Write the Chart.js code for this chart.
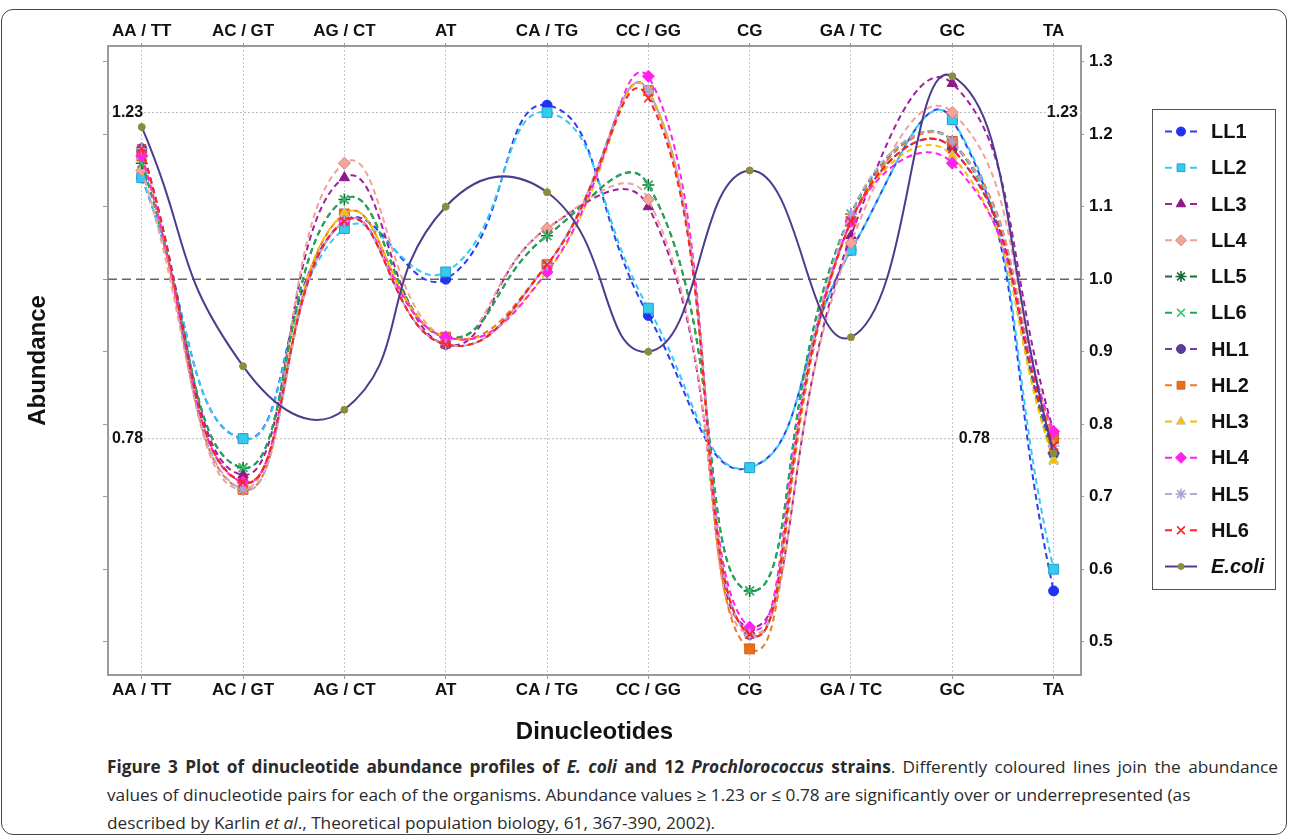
<!DOCTYPE html>
<html>
<head>
<meta charset="utf-8">
<script src="https://cdn.jsdelivr.net/npm/chart.js@4.4.1/dist/chart.umd.min.js"></script>
<style>
  html, body { margin: 0; padding: 0; background: #fff; }
  #wrap { position: relative; width: 1290px; height: 838px; overflow: hidden; }
  #frame { position: absolute; left: 1px; top: 9px; width: 1284px; height: 824px; border: 1.5px solid #444; border-radius: 12px; }
  #c { position: absolute; left: 0; top: 0; }
  #caption { position: absolute; left: 107px; top: 753px; font-family: "Open Sans", "Noto Sans", sans-serif; font-size: 17px; line-height: 28px; color: #2a2a2a; transform-origin: 0 0; }
  #caption div { white-space: nowrap; }
</style>
</head>
<body>
<div id="wrap">
  <div id="frame"></div>
  <canvas id="c" width="1290" height="750"></canvas>
  <div id="caption">
    <div><span><b>Figure 3 Plot of dinucleotide abundance profiles of <i>E. coli</i> and 12 <i>Prochlorococcus</i> strains</b>. Differently coloured lines join the abundance</span></div>
    <div><span>values of dinucleotide pairs for each of the organisms. Abundance values ≥ 1.23 or ≤ 0.78 are significantly over or underrepresented (as</span></div>
    <div><span>described by Karlin <i>et al</i>., Theoretical population biology, 61, 367-390, 2002).</span></div>
  </div>
</div>
<script>
const categories = ['AA / TT', 'AC / GT', 'AG / CT', 'AT', 'CA / TG', 'CC / GG', 'CG', 'GA / TC', 'GC', 'TA'];
const yTicks = [0.5, 0.6, 0.7, 0.8, 0.9, 1.0, 1.1, 1.2, 1.3];

const LL1 = [1.14, 0.78, 1.08, 1.00, 1.24, 0.95, 0.74, 1.04, 1.22, 0.57];
const LL2 = [1.14, 0.78, 1.07, 1.01, 1.23, 0.96, 0.74, 1.04, 1.22, 0.60];
const LL3 = [1.18, 0.73, 1.14, 0.91, 1.07, 1.10, 0.52, 1.06, 1.27, 0.79];
const LL4 = [1.15, 0.71, 1.16, 0.92, 1.07, 1.11, 0.51, 1.05, 1.23, 0.78];
const LL5 = [1.16, 0.74, 1.11, 0.92, 1.06, 1.13, 0.57, 1.09, 1.19, 0.76];
const LL6 = [1.16, 0.74, 1.11, 0.92, 1.06, 1.13, 0.57, 1.09, 1.19, 0.75];
const HL1 = [1.18, 0.72, 1.08, 0.91, 1.02, 1.26, 0.51, 1.08, 1.18, 0.76];
const HL2 = [1.17, 0.71, 1.09, 0.92, 1.02, 1.26, 0.49, 1.08, 1.19, 0.78];
const HL3 = [1.17, 0.72, 1.09, 0.92, 1.01, 1.26, 0.51, 1.08, 1.17, 0.75];
const HL4 = [1.17, 0.72, 1.08, 0.92, 1.01, 1.28, 0.52, 1.08, 1.16, 0.79];
const HL5 = [1.18, 0.71, 1.08, 0.91, 1.02, 1.26, 0.51, 1.09, 1.19, 0.77];
const HL6 = [1.18, 0.72, 1.08, 0.91, 1.02, 1.25, 0.51, 1.08, 1.18, 0.77];
const ECOLI = [1.21, 0.88, 0.82, 1.10, 1.12, 0.90, 1.15, 0.92, 1.28, 0.76];

const seriesNames = ['LL1', 'LL2', 'LL3', 'LL4', 'LL5', 'LL6', 'HL1', 'HL2', 'HL3', 'HL4', 'HL5', 'HL6', 'E.coli'];
const seriesValues = [LL1, LL2, LL3, LL4, LL5, LL6, HL1, HL2, HL3, HL4, HL5, HL6, ECOLI];
const refLevels = [1.23, 0.78];

// line colour, marker fill, marker edge, marker style, marker radius
const styles = [
  { line: '#2e3cf5', fill: '#2233ee', edge: '#2233ee', point: 'circle', r: 5 },
  { line: '#33ccf5', fill: '#33ccee', edge: '#2a9ccc', point: 'rect', r: 7 },
  { line: '#a020a0', fill: '#8b1a8b', edge: '#8b1a8b', point: 'triangle', r: 6 },
  { line: '#f4a09a', fill: '#f4a49a', edge: '#d88080', point: 'rectRot', r: 6 },
  { line: '#1a6a38', fill: '#1a6a38', edge: '#1a6a38', point: 'star', r: 6 },
  { line: '#23a85a', fill: '#3cc070', edge: '#3cc070', point: 'crossRot', r: 6 },
  { line: '#6a3fa8', fill: '#5a3a9a', edge: '#5a3a9a', point: 'circle', r: 5 },
  { line: '#ea7a1e', fill: '#e8701a', edge: '#d06020', point: 'rect', r: 7 },
  { line: '#f5c000', fill: '#f5c000', edge: '#cccccc', point: 'triangle', r: 6 },
  { line: '#ff22ee', fill: '#ff22ee', edge: '#ff22ee', point: 'rectRot', r: 6 },
  { line: '#b8a8d8', fill: '#b0a0d8', edge: '#b0a0d8', point: 'star', r: 6 },
  { line: '#ff2222', fill: '#ff2222', edge: '#ff2222', point: 'crossRot', r: 6 },
  { line: '#4e3b8e', fill: '#8c8c3c', edge: '#8c8c3c', point: 'circle', r: 3.5 }
];

const FONT = '"Liberation Sans", Arial, sans-serif';

const datasets = seriesNames.map((name, i) => {
  const st = styles[i];
  const lineish = st.point === 'star' || st.point === 'crossRot';
  return {
    label: name,
    data: seriesValues[i].map((v, j) => ({ x: j, y: v })),
    borderColor: st.line,
    borderWidth: 2,
    borderDash: i < 12 ? [6, 4] : [],
    pointStyle: st.point,
    pointRadius: st.r,
    pointBackgroundColor: st.fill,
    pointBorderColor: st.edge,
    pointBorderWidth: lineish ? 1.6 : 1,
    tension: 0.5,
    fill: false,
    order: -i
  };
});

const catTicks = (scale) => { scale.ticks = categories.map((c, i) => ({ value: i })); };
const valTicks = (scale) => { scale.ticks = yTicks.map(v => ({ value: v })); };

const xCommon = {
  type: 'linear',
  min: -0.333,
  max: 9.27,
  afterBuildTicks: catTicks,
  ticks: {
    autoSkip: false, maxRotation: 0, padding: 1.4,
    color: '#111', font: { family: FONT, size: 17, weight: 'bold' },
    callback: (v) => categories[v]
  },
  border: { color: '#9a9a9a', width: 2, dash: [2, 2] },
  grid: { color: '#c4c4c4', lineWidth: 1, tickColor: '#9a9a9a', tickBorderDash: [], tickLength: 4 }
};

const refPlugin = {
  id: 'refLines',
  beforeDatasetsDraw(chart) {
    const { ctx, chartArea: a, scales } = chart;
    const y = scales.y;
    ctx.save();
    ctx.strokeStyle = '#666';
    ctx.lineWidth = 1.5;
    ctx.setLineDash([9, 5]);
    const y1 = y.getPixelForValue(1.0);
    ctx.beginPath(); ctx.moveTo(a.left, y1); ctx.lineTo(a.right, y1); ctx.stroke();
    ctx.strokeStyle = '#bbb';
    ctx.lineWidth = 1;
    ctx.setLineDash([2, 2]);
    refLevels.forEach(v => {
      const py = y.getPixelForValue(v);
      ctx.beginPath(); ctx.moveTo(a.left, py); ctx.lineTo(a.right, py); ctx.stroke();
    });
    ctx.setLineDash([]);
    ctx.font = 'bold 16px ' + FONT;
    ctx.textBaseline = 'middle';
    const label = (txt, x, py, align) => {
      const w = ctx.measureText(txt).width;
      const lx = align === 'left' ? x : x - w;
      ctx.fillStyle = '#fff';
      ctx.fillRect(lx - 1, py - 8, w + 2, 16);
      ctx.fillStyle = '#111';
      ctx.textAlign = 'left';
      ctx.fillText(txt, lx, py);
    };
    const p123 = y.getPixelForValue(refLevels[0]);
    const p078 = y.getPixelForValue(refLevels[1]);
    label('1.23', a.left + 4, p123, 'left');
    label('0.78', a.left + 4, p078, 'left');
    label('1.23', a.right - 3, p123, 'right');
    label('0.78', a.right - 91, p078, 'right');
    ctx.restore();
  }
};

const legendPlugin = {
  id: 'boxLegend',
  afterDraw(chart) {
    const ctx = chart.ctx;
    const bx = 1152, by = 109, bw = 123, bh = 480;
    ctx.save();
    ctx.strokeStyle = '#555';
    ctx.lineWidth = 1;
    ctx.strokeRect(bx + 0.5, by + 0.5, bw, bh);
    seriesNames.forEach((name, i) => {
      const st = styles[i];
      const cy = 131.5 + i * 36.25;
      ctx.strokeStyle = st.line;
      ctx.lineWidth = 2;
      ctx.setLineDash([]);
      ctx.beginPath();
      if (i < 12) {
        ctx.moveTo(1165, cy); ctx.lineTo(1172, cy);
        ctx.moveTo(1190, cy); ctx.lineTo(1197, cy);
      } else {
        ctx.moveTo(1165, cy); ctx.lineTo(1197, cy);
      }
      ctx.stroke();
      ctx.fillStyle = st.fill;
      ctx.strokeStyle = st.edge;
      const lineish = st.point === 'star' || st.point === 'crossRot';
      ctx.lineWidth = lineish ? 1.6 : 1;
      Chart.helpers.drawPoint(ctx, { pointStyle: st.point, radius: Math.min(st.r, 6) - 0.5, rotation: 0, borderWidth: ctx.lineWidth }, 1181, cy);
      ctx.fillStyle = '#111';
      ctx.font = (i === 12 ? 'italic bold 20px ' : 'bold 20px ') + FONT;
      ctx.textAlign = 'left';
      ctx.textBaseline = 'middle';
      ctx.fillText(name, 1211, cy + 1);
    });
    ctx.restore();
  }
};

new Chart(document.getElementById('c'), {
  type: 'line',
  data: { datasets },
  options: {
    responsive: false,
    animation: false,
    layout: { padding: 0 },
    plugins: { legend: { display: false }, tooltip: { enabled: false } },
    scales: {
      x: {
        ...xCommon,
        position: 'bottom',
        title: { display: true, text: 'Dinucleotides', color: '#111', font: { family: FONT, size: 24, weight: 'bold' }, padding: { top: 0, bottom: 3 } },
        afterFit: (s) => { s.height = 75; }
      },
      x2: {
        ...xCommon,
        position: 'top',
        grid: { ...xCommon.grid, drawOnChartArea: false, tickLength: 3 },
        afterFit: (s) => { s.height = 46; }
      },
      y: {
        type: 'linear',
        position: 'left',
        min: 0.454,
        max: 1.3217,
        afterBuildTicks: valTicks,
        ticks: { display: false },
        border: { color: '#9a9a9a', width: 2 },
        grid: { drawOnChartArea: false, tickLength: 5, tickColor: '#9a9a9a' },
        title: { display: true, text: 'Abundance', color: '#111', font: { family: FONT, size: 24, weight: 'bold' }, padding: { top: 24, bottom: 0 } },
        afterFit: (s) => { s.width = 108; }
      },
      y2: {
        type: 'linear',
        position: 'right',
        min: 0.454,
        max: 1.3217,
        afterBuildTicks: valTicks,
        ticks: { padding: 5, color: '#111', font: { family: FONT, size: 17, weight: 'bold' }, callback: (v) => v.toFixed(1) },
        border: { color: '#9a9a9a', width: 2 },
        grid: { drawOnChartArea: false, tickLength: 3, tickColor: '#9a9a9a' },
        afterFit: (s) => { s.width = 209; }
      }
    }
  },
  plugins: [refPlugin, legendPlugin]
});

// fit caption lines to the widths they take in the figure
const cap = document.getElementById('caption');
const spans = cap.querySelectorAll('span');
const w3 = spans[2].getBoundingClientRect().width;
const sx = 608 / w3;
const w1 = spans[0].getBoundingClientRect().width;
const gaps = spans[0].textContent.split(' ').length - 1;
spans[0].style.wordSpacing = ((1171 / sx - w1) / gaps) + 'px';
cap.style.transform = 'scaleX(' + sx + ')';
</script>
</body>
</html>
